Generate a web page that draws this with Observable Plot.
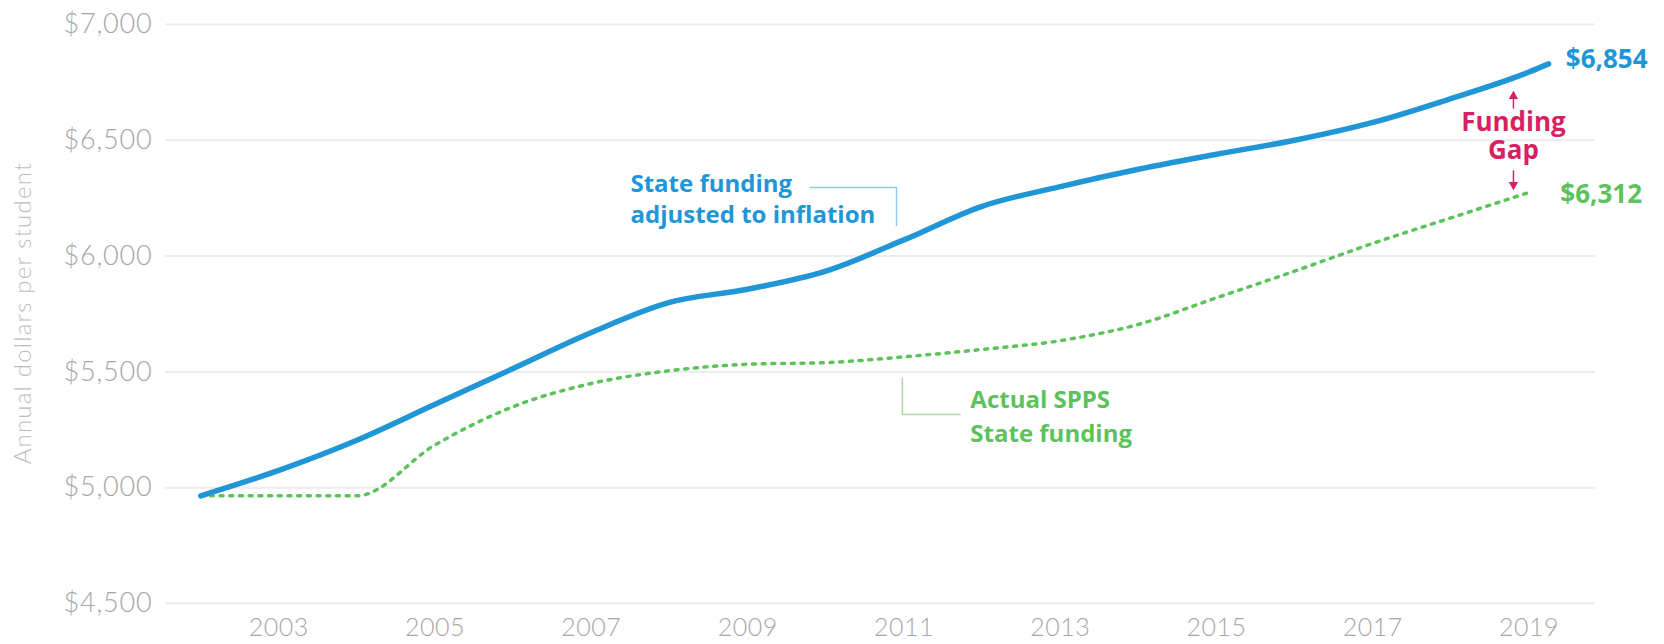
<!DOCTYPE html>
<html><head><meta charset="utf-8">
<script src="https://cdn.jsdelivr.net/npm/d3@7"></script>
<script src="https://cdn.jsdelivr.net/npm/@observablehq/plot@0.6"></script>
<style>
html,body{margin:0;padding:0;background:#fff;}
#wrap{position:relative;width:1664px;height:644px;}
#chart svg{display:block;}
#chart svg g[aria-label="x-axis tick label"] text{letter-spacing:0.5px;}
#chart svg g[aria-label="y-axis tick label"]{font-size:27px;}
#chart svg g[aria-label="y-axis tick label"] text{letter-spacing:0.8px;}
#ytitle{position:absolute;left:21px;top:313px;transform:translate(-50%,-50%) rotate(-90deg);
  white-space:nowrap;font-family:Lato,sans-serif;font-weight:300;font-size:24px;color:#bdbdbd;letter-spacing:1.2px;}
</style>
</head><body><div id="wrap"><div id="chart"></div><div id="ytitle"></div></div>
<script>
// Data
const years = [2002,2003,2004,2005,2006,2007,2008,2009,2010,2011,2012,2013,2014,2015,2016,2017,2018,2019];
const adjustedYears = [2002,2003,2004,2005,2006,2007,2008,2009,2010,2011,2012,2013,2014,2015,2016,2017,2018,2019,2019.25];
const adjustedFunding = [4965,5075,5205,5360,5515,5670,5800,5857,5935,6070,6215,6300,6375,6440,6500,6577,6680,6795,6830];
const actualFunding = [4965,4965,4965,5185,5350,5450,5505,5533,5540,5565,5597,5635,5705,5820,5935,6055,6165,6275];
const yTicks = [4500,5000,5500,6000,6500,7000];
const xTicks = [2003,2005,2007,2009,2011,2013,2015,2017,2019];
const endLabels = ["$6,854","$6,312"];
const yTitle = "Annual dollars per student";

document.getElementById("ytitle").textContent = yTitle;

const BLUE = "#2096d6", GREEN = "#5cc25c", PINK = "#d81f62";

const blueData = adjustedYears.map((x,i)=>({x, y: adjustedFunding[i]}));
const greenData = years.map((x,i)=>({x, y: actualFunding[i]}));

const startNotes = [
  {x: 2007.50, y: 6275, text: "State funding", fill: BLUE},
  {x: 2007.50, y: 6141, text: "adjusted to inflation", fill: BLUE},
  {x: 2011.85, y: 5342, text: "Actual SPPS", fill: GREEN},
  {x: 2011.85, y: 5199, text: "State funding", fill: GREEN}
];
const valueNotes = [
  {x: 2019.47, y: 6814, text: endLabels[0], fill: BLUE},
  {x: 2019.40, y: 6231, text: endLabels[1], fill: GREEN}
];
const gapNote = [{x: 2018.80, y: 6421, text: "Funding\nGap", fill: PINK}];
const blueLeader = [{x:2009.80,y:6296},{x:2010.905,y:6296},{x:2010.905,y:6132}];
const greenLeader = [{x:2010.98,y:5471},{x:2010.98,y:5316},{x:2011.72,y:5316}];
const arrows = [
  {x:2018.80, y1:6637, y2:6690, dir:0},
  {x:2018.80, y1:6370, y2:6308, dir:180}
];

const textOpts = {x: "x", y: "y", text: "text", fill: "fill", lineAnchor: "bottom",
  fontFamily: "'Open Sans', sans-serif", fontWeight: 700};

const chart = Plot.plot({
  width: 1664, height: 644,
  marginLeft: 165, marginRight: 69, marginTop: 24, marginBottom: 41,
  style: {fontFamily: "Lato, sans-serif", fontSize: "25px", fontWeight: 300, color: "#a6a6a6", background: "#fff", overflow: "visible"},
  x: {domain: [2001.55, 2019.85]},
  y: {domain: [4500, 7000]},
  marks: [
    Plot.gridY(yTicks, {stroke: "#ececec", strokeOpacity: 1, strokeWidth: 2}),
    Plot.axisY(yTicks, {tickSize: 0, tickPadding: 13, tickFormat: d3.format("$,"), label: null}),
    Plot.axisX(xTicks, {tickSize: 0, tickPadding: 15, tickFormat: d => String(d), label: null}),
    Plot.line(greenData, {x: "x", y: "y", stroke: GREEN, strokeWidth: 3.5, strokeDasharray: "3,6.7", curve: "monotone-x"}),
    Plot.line(blueData, {x: "x", y: "y", stroke: BLUE, strokeWidth: 5.5, strokeLinecap: "round", curve: "monotone-x"}),
    Plot.line(blueLeader, {x: "x", y: "y", stroke: "#8ccbee", strokeWidth: 1.5}),
    Plot.line(greenLeader, {x: "x", y: "y", stroke: "#a6dca6", strokeWidth: 1.5}),
    Plot.link(arrows, {x1: "x", x2: "x", y1: "y1", y2: "y2", stroke: PINK, strokeWidth: 1.5}),
    Plot.dot(arrows, {x: "x", y: "y2", symbol: "triangle", rotate: "dir", r: 3.5, fill: PINK, stroke: "none"}),
    Plot.text(startNotes, {...textOpts, textAnchor: "start", fontSize: 24}),
    Plot.text(valueNotes, {...textOpts, textAnchor: "start", fontSize: 26}),
    Plot.text(gapNote, {...textOpts, textAnchor: "middle", fontSize: 26, lineHeight: 1.08})
  ]
});
document.getElementById("chart").appendChild(chart);
</script>
</body></html>
